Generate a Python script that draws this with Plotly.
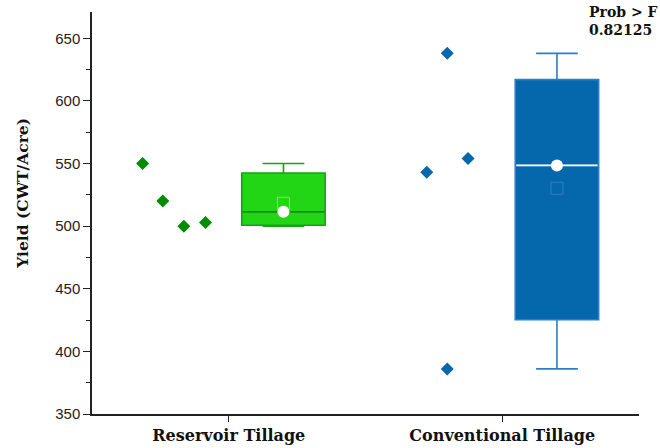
import numpy as np
import plotly.graph_objects as go

# Yield observations per tillage treatment (CWT/Acre)
categories = ["Reservoir Tillage", "Conventional Tillage"]
reservoir_yield = [550, 520, 500, 503]
conventional_yield = [638, 543, 554, 386]
prob_f = "0.82125"
y_title = "Yield (CWT/Acre)"

# Horizontal spread of the raw points left of each box
reservoir_offsets = [-0.315, -0.241, -0.164, -0.085]
conventional_offsets = [-0.201, -0.276, -0.125, -0.201]

BOX_SHIFT = 0.2
BOX_WIDTH = 0.305

groups = [
    dict(name=categories[0], values=reservoir_yield, offsets=reservoir_offsets,
         point="#008c00", fill="#22d616", line="#18a018", median="#138a13",
         mean="#7fe07a"),
    dict(name=categories[1], values=conventional_yield, offsets=conventional_offsets,
         point="#0568ac", fill="#0568ac", line="#2a80c2", median="#ffffff",
         mean="#2f80c2"),
]

fig = go.Figure()

for i, g in enumerate(groups):
    vals = np.array(g["values"], dtype=float)
    q1, med, q3 = np.percentile(vals, [25, 50, 75], method="weibull")
    center = i + BOX_SHIFT

    # raw observations
    fig.add_trace(go.Scatter(
        x=[i + o for o in g["offsets"]], y=vals, mode="markers",
        marker=dict(symbol="diamond", size=10, color=g["point"]),
        showlegend=False, hoverinfo="y"))

    # box with quartiles and min/max whiskers
    fig.add_trace(go.Box(
        x=[center], q1=[q1], median=[med], q3=[q3],
        lowerfence=[vals.min()], upperfence=[vals.max()],
        width=BOX_WIDTH, whiskerwidth=0.5, boxpoints=False,
        fillcolor=g["fill"], line=dict(color=g["line"], width=1.6),
        showlegend=False))

    # median line drawn over the box
    fig.add_trace(go.Scatter(
        x=[center - BOX_WIDTH / 2 + 0.004, center + BOX_WIDTH / 2 - 0.004],
        y=[med, med], mode="lines",
        line=dict(color=g["median"], width=1.6),
        showlegend=False, hoverinfo="skip"))

    # mean marker
    fig.add_trace(go.Scatter(
        x=[center], y=[vals.mean()], mode="markers",
        marker=dict(symbol="square-open", size=12, color=g["mean"],
                    line=dict(width=1)),
        showlegend=False, hoverinfo="y"))

    # median marker
    fig.add_trace(go.Scatter(
        x=[center], y=[med], mode="markers",
        marker=dict(symbol="circle", size=12, color="white"),
        showlegend=False, hoverinfo="y"))

serif = "DejaVu Serif"
sans = "Liberation Sans"

fig.update_layout(
    width=660, height=448,
    margin=dict(l=92, r=21, t=12, b=34),
    paper_bgcolor="white", plot_bgcolor="white",
    xaxis=dict(
        range=[-0.5, 1.5], tickmode="array", tickvals=[0, 1],
        ticktext=[f"<b>{c}</b>" for c in categories],
        showline=True, linecolor="#222", linewidth=1.5,
        ticks="outside", ticklen=6, tickcolor="#222", tickwidth=1.2,
        showgrid=False, zeroline=False, automargin=False,
        tickfont=dict(family=serif, size=16, color="#111"),
    ),
    yaxis=dict(
        range=[350, 671], tick0=350, dtick=50,
        showline=True, linecolor="#222", linewidth=1.5,
        ticks="outside", ticklen=7, tickcolor="#222", tickwidth=1.2,
        minor=dict(ticks="outside", ticklen=4, dtick=25, tick0=350,
                   tickcolor="#222", tickwidth=1),
        showgrid=False, zeroline=False, automargin=False,
        tickfont=dict(family=sans, size=15, color="#222"),
    ),
    annotations=[
        dict(text=f"<b>{y_title}</b>", xref="paper", yref="paper",
             x=0, y=0.548, xanchor="center", yanchor="middle", xshift=-69,
             textangle=-90, showarrow=False, borderpad=0,
             font=dict(family=serif, size=15.5, color="#111")),
        dict(text=f"<b>Prob > F<br>{prob_f}</b>", xref="paper", yref="paper",
             x=1, y=1, xanchor="right", yanchor="top", xshift=20, yshift=9,
             align="left", showarrow=False, borderpad=0,
             font=dict(family=serif, size=14, color="#111")),
    ],
)

fig.write_html("out.html")
